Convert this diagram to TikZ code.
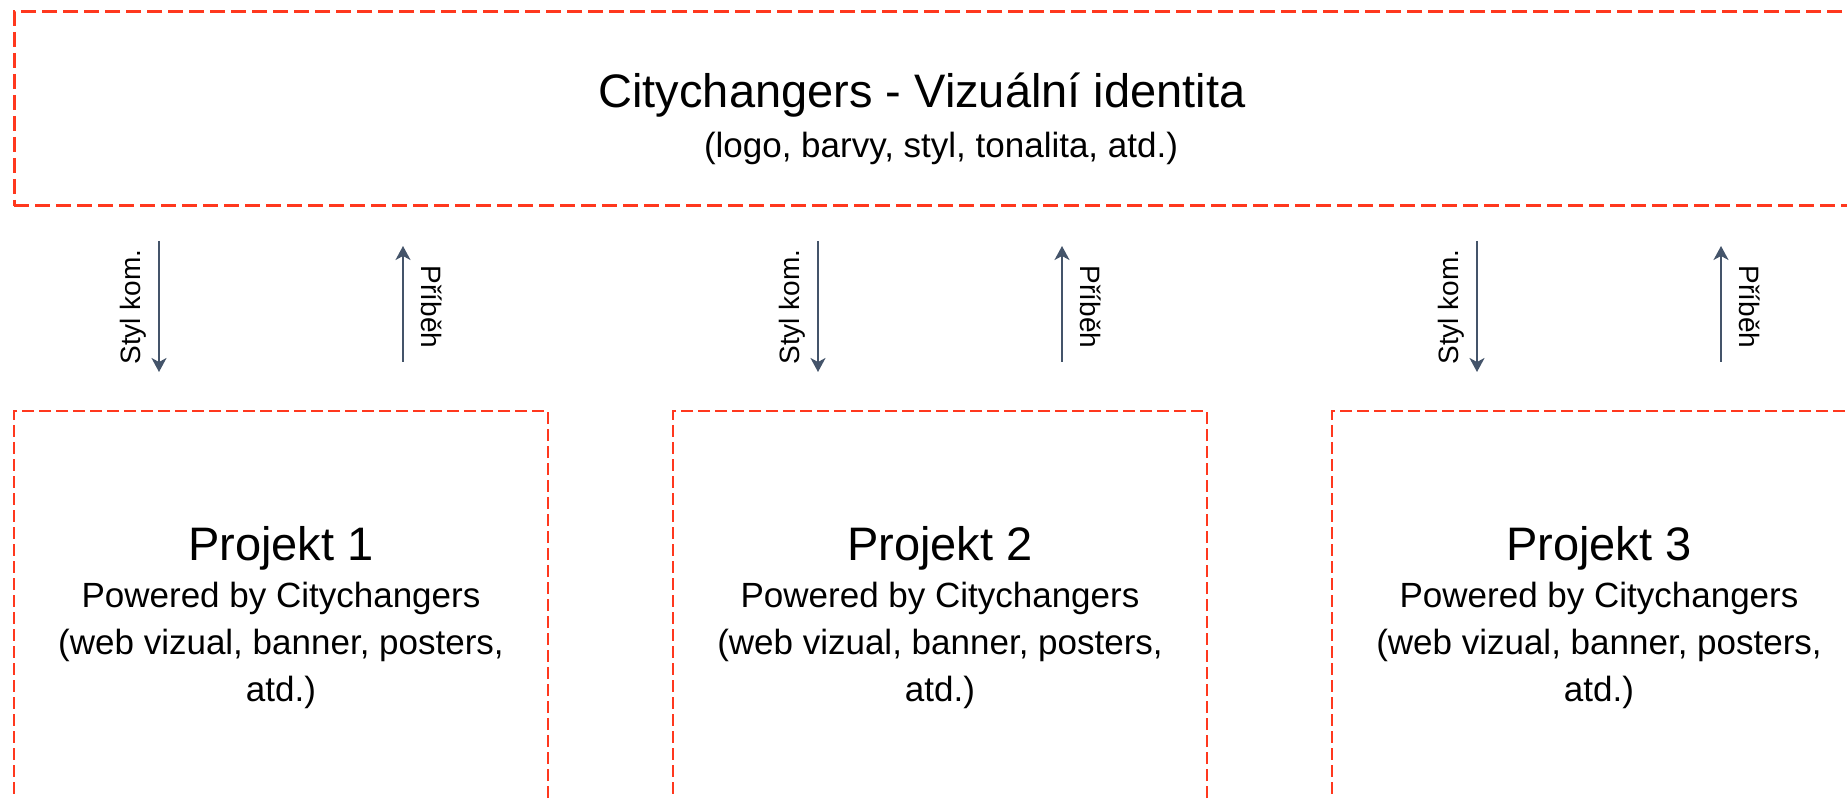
\documentclass[tikz,border=0pt]{standalone}
\usepackage{fontspec}
\setmainfont{Liberation Sans}
\usepackage{tikz}
\usetikzlibrary{arrows.meta}

\definecolor{dashred}{RGB}{255,56,30}
\definecolor{slate}{RGB}{68,84,106}

\begin{document}
\begin{tikzpicture}[x=1pt, y=-1pt,
    identbox/.style={draw=dashred, line width=3pt, dash pattern=on 15pt off 6pt,
        minimum width=1846pt, minimum height=194pt},
    projbox/.style={draw=dashred, line width=2pt, dash pattern=on 12pt off 5pt,
        minimum width=534pt, minimum height=414pt, align=center,
        font=\fontsize{35}{47}\selectfont},
    flow/.style={draw=slate, line width=2pt, -{Stealth[length=14pt, width=15pt, inset=4pt]}},
    lbl/.style={font=\fontsize{28}{32}\selectfont, inner sep=0pt}]
        \clip (0,0) rectangle (1847,799);

        \node[identbox] (ident) at (937,109) {};
        \node[anchor=base, font=\fontsize{47}{50}\selectfont] (identTitle) at (922,108) {Citychangers - Vizuální identita};
        \node[anchor=base, font=\fontsize{35}{42}\selectfont] (identSub) at (941,158) {(logo, barvy, styl, tonalita, atd.)};

        \node[projbox] (proj1) at (281,618) {{\fontsize{47}{47}\selectfont Projekt 1}\\Powered by Citychangers\\(web vizual, banner, posters,\\atd.)};
        \node[projbox] (proj2) at (940,618) {{\fontsize{47}{47}\selectfont Projekt 2}\\Powered by Citychangers\\(web vizual, banner, posters,\\atd.)};
        \node[projbox] (proj3) at (1599,618) {{\fontsize{47}{47}\selectfont Projekt 3}\\Powered by Citychangers\\(web vizual, banner, posters,\\atd.)};

        % styl komunikace dolu, pribeh nahoru
        \coordinate (down1a) at (159,241);  \coordinate (down1b) at (159,372);
        \coordinate (up1a) at (403,362);    \coordinate (up1b) at (403,246);
        \coordinate (down2a) at (818,241);  \coordinate (down2b) at (818,372);
        \coordinate (up2a) at (1062,362);   \coordinate (up2b) at (1062,246);
        \coordinate (down3a) at (1477,241); \coordinate (down3b) at (1477,372);
        \coordinate (up3a) at (1721,362);   \coordinate (up3b) at (1721,246);

        \draw[flow] (down1a) -- (down1b);
        \draw[flow] (up1a) -- (up1b);
        \draw[flow] (down2a) -- (down2b);
        \draw[flow] (up2a) -- (up2b);
        \draw[flow] (down3a) -- (down3b);
        \draw[flow] (up3a) -- (up3b);

        \node[lbl, rotate=90] (styl1) at (133,307) {Styl kom.};
        \node[lbl, rotate=-90] (pribeh1) at (432,307) {Příběh};
        \node[lbl, rotate=90] (styl2) at (792,307) {Styl kom.};
        \node[lbl, rotate=-90] (pribeh2) at (1091,307) {Příběh};
        \node[lbl, rotate=90] (styl3) at (1451,307) {Styl kom.};
        \node[lbl, rotate=-90] (pribeh3) at (1750,307) {Příběh};
    \end{tikzpicture}
\end{document}
